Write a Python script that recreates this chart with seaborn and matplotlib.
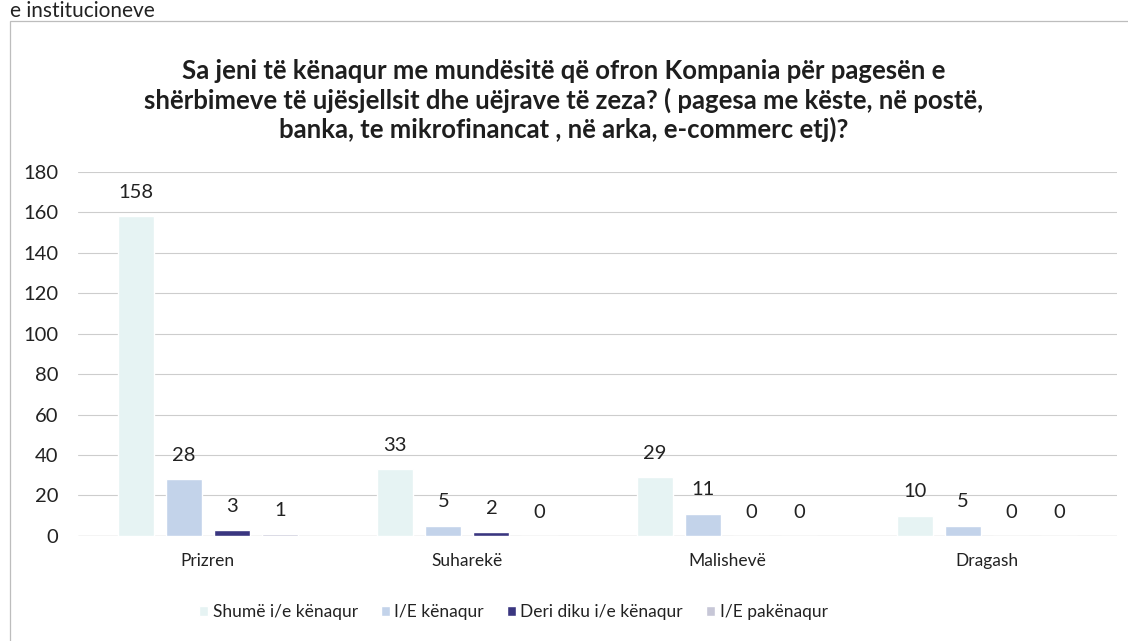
import matplotlib
matplotlib.use("Agg")
import matplotlib.pyplot as plt
from matplotlib.patches import Rectangle
import seaborn as sns
import pandas as pd

# Survey responses per municipality
municipalities = ["Prizren", "Suharekë", "Malishevë", "Dragash"]
responses = ["Shumë i/e kënaqur", "I/E kënaqur", "Deri diku i/e kënaqur", "I/E pakënaqur"]
very_satisfied = [158, 33, 29, 10]
satisfied = [28, 5, 11, 5]
somewhat_satisfied = [3, 2, 0, 0]
dissatisfied = [1, 0, 0, 0]

title = ("Sa jeni të kënaqur me mundësitë që ofron Kompania për pagesën e\n"
         "shërbimeve të ujësjellsit dhe uëjrave të zeza? ( pagesa me këste, në postë,\n"
         "banka, te mikrofinancat , në arka, e-commerc etj)?")
yticks = [0, 20, 40, 60, 80, 100, 120, 140, 160, 180]

colors = ["#e6f3f3", "#c3d3ea", "#3a3680", "#c7c7d7"]

rows = []
for series, name in zip([very_satisfied, satisfied, somewhat_satisfied, dissatisfied], responses):
    for m, v in zip(municipalities, series):
        rows.append({"Komuna": m, "Përgjigja": name, "Numri": v})
df = pd.DataFrame(rows)

sns.set_theme(style="white")
plt.rcParams["font.family"] = ["Lato", "DejaVu Sans"]

fig = plt.figure(figsize=(11.28, 6.41), dpi=100)
fig.patch.set_facecolor("white")
ax = fig.add_axes([0.069, 0.164, 0.921, 0.568])

sns.barplot(data=df, x="Komuna", y="Numri", hue="Përgjigja", hue_order=responses,
            order=municipalities, palette=colors, width=0.74, gap=0.25,
            saturation=1, ax=ax, legend=True, zorder=3)

ax.set_ylim(0, 180)
ax.set_yticks(yticks)
ax.set_xlim(-0.5, 3.5)
ax.yaxis.grid(True, color="#cdcdcd", linewidth=0.8, zorder=0)
ax.set_axisbelow(True)
for s in ax.spines.values():
    s.set_visible(False)
ax.axhline(0, color="#c4c4c4", linewidth=0.9, zorder=2)
ax.set_xlabel("")
ax.set_ylabel("")
ax.tick_params(axis="y", labelsize=14.5, length=0, pad=14, labelcolor="#222222")
ax.tick_params(axis="x", labelsize=12.5, length=0, pad=12, labelcolor="#222222")

for container in ax.containers:
    ax.bar_label(container, fmt="%d", padding=11, fontsize=14.5, color="#222222")

handles, labels = ax.get_legend_handles_labels()
ax.legend_.remove()
fig.legend(handles, labels, loc="center", bbox_to_anchor=(0.455, 0.045), ncol=4,
           frameon=False, fontsize=12.5, handlelength=0.55, handleheight=0.55,
           handletextpad=0.25, columnspacing=1.3, labelcolor="#222222")

fig.text(0.5, 0.843, title, ha="center", va="center", fontsize=18.5,
         fontweight="bold", color="#1e1e1e", linespacing=1.2)

fig.text(0.009, 0.999, "e institucioneve", ha="left", va="top", fontsize=15,
         color="#222222")

# Frame around the chart
fig.patches.append(Rectangle((0.009, -0.01), 1.2, 0.978, transform=fig.transFigure,
                             fill=False, edgecolor="#bdbdbd", linewidth=0.9))

fig.savefig("out.png", dpi=100, facecolor="white")
